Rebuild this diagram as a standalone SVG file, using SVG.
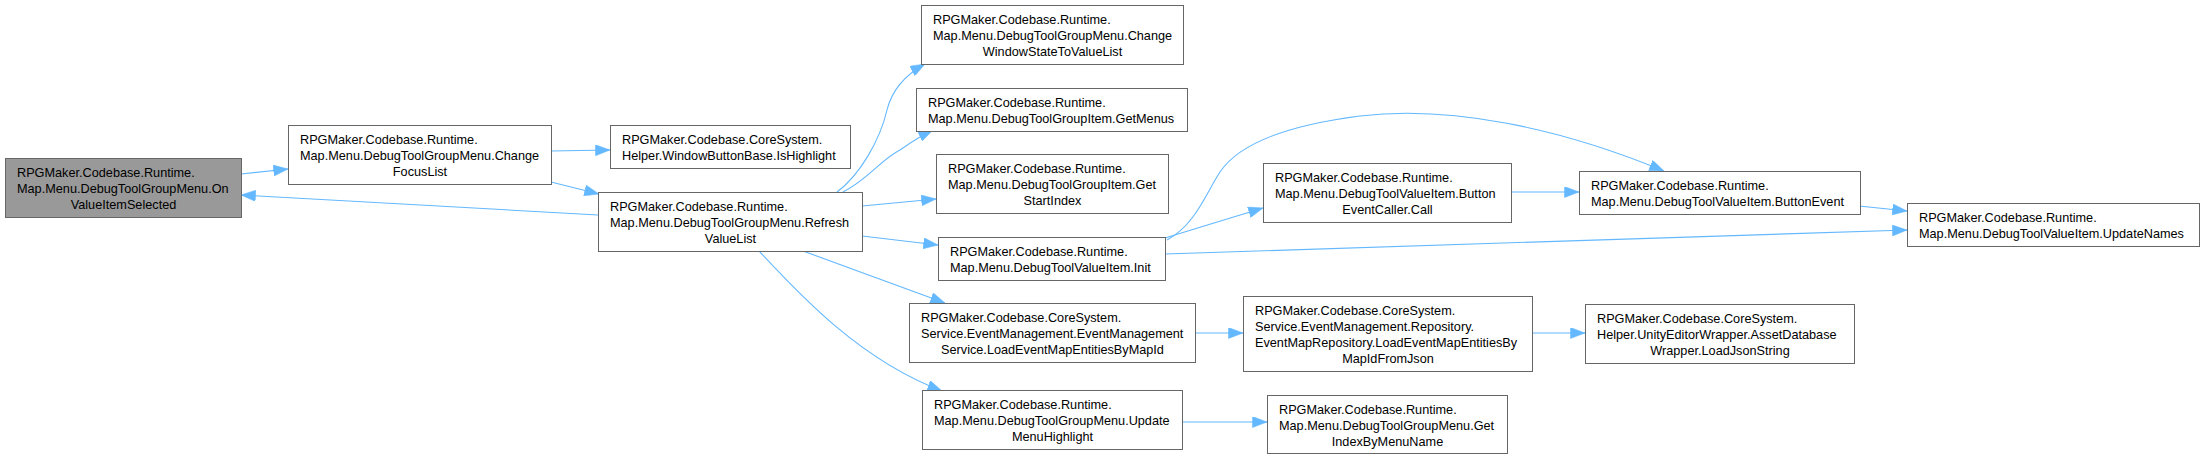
<svg xmlns="http://www.w3.org/2000/svg" width="2204" height="459" viewBox="0 0 2204 459">
<style>
.n rect{fill:#ffffff;stroke:#666666;stroke-width:1}
.n.hl rect{fill:#999999}
.n text{font-family:"Liberation Sans",Arial,sans-serif;font-size:12.7px;fill:#000000}
.n text.c{text-anchor:middle}
.e path{fill:none;stroke:#63B8FF;stroke-width:1.1;marker-end:url(#ah)}
</style>
<defs>
<marker id="ah" markerUnits="userSpaceOnUse" markerWidth="15" markerHeight="11" viewBox="0 0 14 10.6" refX="14" refY="5.3" orient="auto">
<path d="M0,0 L14,5.3 L0,10.6 Z" fill="#63B8FF" stroke="#63B8FF" stroke-width="0.5"/>
</marker>
</defs>
<rect width="2204" height="459" fill="#ffffff"/>
<g id="edges" class="e">
<path d="M241,174 L288,169"/>
<path d="M598,215 L241,195"/>
<path d="M551,151 L610,150"/>
<path d="M551,182 L599,194"/>
<path d="M837,192 C860,175 880,140 887,110 C892,90 905,75 925,64"/>
<path d="M843,192 C870,178 880,160 900,150 C910,143 920,136 933,130"/>
<path d="M862,206 L936,199"/>
<path d="M862,236 L938,245"/>
<path d="M803,251 L945,303"/>
<path d="M759,251 C800,295 860,360 942,391"/>
<path d="M1165,238 L1263,208"/>
<path d="M1167,240 C1195,225 1205,195 1220,172 C1240,142 1290,125 1360,116 C1450,105 1560,128 1664,171"/>
<path d="M1165,254 L1907,230"/>
<path d="M1511,192 L1579,192"/>
<path d="M1859,206 L1907,211"/>
<path d="M1195,333 L1243,333"/>
<path d="M1532,333 L1585,333"/>
<path d="M1182,422 L1267,422"/>
</g>
<g id="n1" class="n hl">
<rect x="5.5" y="158.5" width="236" height="59"/>
<text x="17" y="176.5">RPGMaker.Codebase.Runtime.</text>
<text x="17" y="192.5">Map.Menu.DebugToolGroupMenu.On</text>
<text class="c" x="123.5" y="208.5">ValueItemSelected</text>
</g>
<g id="n2" class="n">
<rect x="288.5" y="125.5" width="263" height="59"/>
<text x="300" y="143.5">RPGMaker.Codebase.Runtime.</text>
<text x="300" y="159.5">Map.Menu.DebugToolGroupMenu.Change</text>
<text class="c" x="420" y="175.5">FocusList</text>
</g>
<g id="n3" class="n">
<rect x="610.5" y="125.5" width="240" height="43"/>
<text x="622" y="143.5">RPGMaker.Codebase.CoreSystem.</text>
<text x="622" y="159.5">Helper.WindowButtonBase.IsHighlight</text>
</g>
<g id="n4" class="n">
<rect x="598.5" y="192.5" width="264" height="59"/>
<text x="610" y="210.5">RPGMaker.Codebase.Runtime.</text>
<text x="610" y="226.5">Map.Menu.DebugToolGroupMenu.Refresh</text>
<text class="c" x="730.5" y="242.5">ValueList</text>
</g>
<g id="n5" class="n">
<rect x="921.5" y="5.5" width="262" height="59"/>
<text x="933" y="23.5">RPGMaker.Codebase.Runtime.</text>
<text x="933" y="39.5">Map.Menu.DebugToolGroupMenu.Change</text>
<text class="c" x="1052.5" y="55.5">WindowStateToValueList</text>
</g>
<g id="n6" class="n">
<rect x="916.5" y="88.5" width="271" height="43"/>
<text x="928" y="106.5">RPGMaker.Codebase.Runtime.</text>
<text x="928" y="122.5">Map.Menu.DebugToolGroupItem.GetMenus</text>
</g>
<g id="n7" class="n">
<rect x="936.5" y="154.5" width="232" height="59"/>
<text x="948" y="172.5">RPGMaker.Codebase.Runtime.</text>
<text x="948" y="188.5">Map.Menu.DebugToolGroupItem.Get</text>
<text class="c" x="1052.5" y="204.5">StartIndex</text>
</g>
<g id="n8" class="n">
<rect x="938.5" y="237.5" width="227" height="43"/>
<text x="950" y="255.5">RPGMaker.Codebase.Runtime.</text>
<text x="950" y="271.5">Map.Menu.DebugToolValueItem.Init</text>
</g>
<g id="n9" class="n">
<rect x="909.5" y="303.5" width="286" height="59"/>
<text x="921" y="321.5">RPGMaker.Codebase.CoreSystem.</text>
<text x="921" y="337.5">Service.EventManagement.EventManagement</text>
<text class="c" x="1052.5" y="353.5">Service.LoadEventMapEntitiesByMapId</text>
</g>
<g id="n10" class="n">
<rect x="922.5" y="390.5" width="260" height="59"/>
<text x="934" y="408.5">RPGMaker.Codebase.Runtime.</text>
<text x="934" y="424.5">Map.Menu.DebugToolGroupMenu.Update</text>
<text class="c" x="1052.5" y="440.5">MenuHighlight</text>
</g>
<g id="n11" class="n">
<rect x="1263.5" y="163.5" width="248" height="59"/>
<text x="1275" y="181.5">RPGMaker.Codebase.Runtime.</text>
<text x="1275" y="197.5">Map.Menu.DebugToolValueItem.Button</text>
<text class="c" x="1387.5" y="213.5">EventCaller.Call</text>
</g>
<g id="n12" class="n">
<rect x="1579.5" y="171.5" width="281" height="43"/>
<text x="1591" y="189.5">RPGMaker.Codebase.Runtime.</text>
<text x="1591" y="205.5">Map.Menu.DebugToolValueItem.ButtonEvent</text>
</g>
<g id="n13" class="n">
<rect x="1907.5" y="203.5" width="292" height="43"/>
<text x="1919" y="221.5">RPGMaker.Codebase.Runtime.</text>
<text x="1919" y="237.5">Map.Menu.DebugToolValueItem.UpdateNames</text>
</g>
<g id="n14" class="n">
<rect x="1243.5" y="296.5" width="289" height="75"/>
<text x="1255" y="314.5">RPGMaker.Codebase.CoreSystem.</text>
<text x="1255" y="330.5">Service.EventManagement.Repository.</text>
<text x="1255" y="346.5">EventMapRepository.LoadEventMapEntitiesBy</text>
<text class="c" x="1388" y="362.5">MapIdFromJson</text>
</g>
<g id="n15" class="n">
<rect x="1585.5" y="304.5" width="269" height="59"/>
<text x="1597" y="322.5">RPGMaker.Codebase.CoreSystem.</text>
<text x="1597" y="338.5">Helper.UnityEditorWrapper.AssetDatabase</text>
<text class="c" x="1720" y="354.5">Wrapper.LoadJsonString</text>
</g>
<g id="n16" class="n">
<rect x="1267.5" y="395.5" width="240" height="58"/>
<text x="1279" y="413.5">RPGMaker.Codebase.Runtime.</text>
<text x="1279" y="429.5">Map.Menu.DebugToolGroupMenu.Get</text>
<text class="c" x="1387.5" y="445.5">IndexByMenuName</text>
</g>
</svg>
